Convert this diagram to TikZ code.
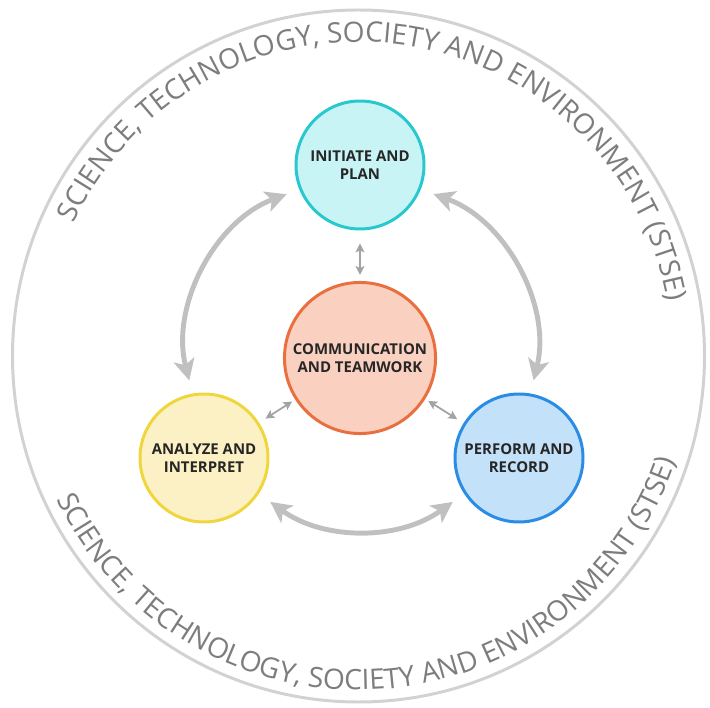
\documentclass[tikz,border=0pt]{standalone}
\usepackage{fontspec}
\newfontfamily\stagefont{Open Sans}
\usetikzlibrary{arrows.meta,decorations.text}
\definecolor{ringgray}{RGB}{210,210,210}
\definecolor{ringtext}{RGB}{125,125,125}
\definecolor{arrowgray}{RGB}{192,192,192}
\definecolor{inidraw}{RGB}{40,200,206}
\definecolor{inifill}{RGB}{200,244,245}
\definecolor{comdraw}{RGB}{232,112,62}
\definecolor{comfill}{RGB}{250,208,192}
\definecolor{anadraw}{RGB}{240,214,62}
\definecolor{anafill}{RGB}{252,241,196}
\definecolor{perdraw}{RGB}{42,140,228}
\definecolor{perfill}{RGB}{196,225,250}
\newcommand\ringfont{\stagefont\fontsize{16}{16}\selectfont}
\tikzset{>=latex,
  stage/.style={circle, minimum size=2.56cm, line width=1.7pt, align=center,
    font=\stagefont\bfseries\fontsize{8.5}{10.5}\selectfont, text=black!85},
  bigarrow/.style={draw=arrowgray, line width=2.8pt,
    >={Stealth[length=12pt,width=12pt,inset=3pt]}, <->},
  smallarrow/.style={draw=arrowgray!85!black, line width=1pt,
    >={Stealth[length=5pt,width=5pt,inset=1pt]}, <->},
  ringtextstyle/.style={decorate, decoration={text along path, text align=center,
    text color=ringtext}}
}
\begin{document}
\begin{tikzpicture}
            \useasboundingbox (0,0) rectangle (14.2,14.14);
            \coordinate (mid) at (7.17,7.02);
            \draw[ringgray,line width=1.7pt] (mid) circle (6.92);
            % ring texts
            \path[ringtextstyle, decoration={text={|\ringfont|SCIENCE, TECHNOLOGY, SOCIETY AND ENVIRONMENT (STSE)}}]
                ([shift={(172.5:6.28)}]mid) arc[start angle=172.5, end angle=-7.5, radius=6.28];
            \path[ringtextstyle, decoration={text={|\ringfont|SCIENCE, TECHNOLOGY, SOCIETY AND ENVIRONMENT (STSE)}}]
                ([shift={(183.5:6.68)}]mid) arc[start angle=183.5, end angle=363.5, radius=6.68];
            % stages
            \node[stage, draw=inidraw, fill=inifill] (ini) at (7.2,10.84) {INITIATE AND\\PLAN};
            \node[stage, draw=comdraw, fill=comfill] (com) at (7.2,6.98) {COMMUNICATION\\AND TEAMWORK};
            \node[stage, draw=anadraw, fill=anafill] (ana) at (4.08,4.98) {ANALYZE AND\\INTERPRET};
            \node[stage, draw=perdraw, fill=perfill] (per) at (10.38,4.98) {PERFORM AND\\RECORD};
            % cycle arrows
            \draw[bigarrow, shorten <=0.27cm, shorten >=0.27cm] (ini.202) to[bend right=42] (ana.100);
            \draw[bigarrow, shorten <=0.27cm, shorten >=0.27cm] (ini.338) to[bend left=42] (per.80);
            \draw[bigarrow, shorten <=0.28cm, shorten >=0.28cm] (ana.327) to[bend right=36] (per.213);
            % links to the centre
            \draw[smallarrow, shorten <=0.26cm, shorten >=0.12cm] (ini) -- (com);
            \draw[smallarrow, shorten <=0.07cm, shorten >=0.15cm] (com) -- (ana);
            \draw[smallarrow, shorten <=0.07cm, shorten >=0.15cm] (com) -- (per);
\end{tikzpicture}
\end{document}
